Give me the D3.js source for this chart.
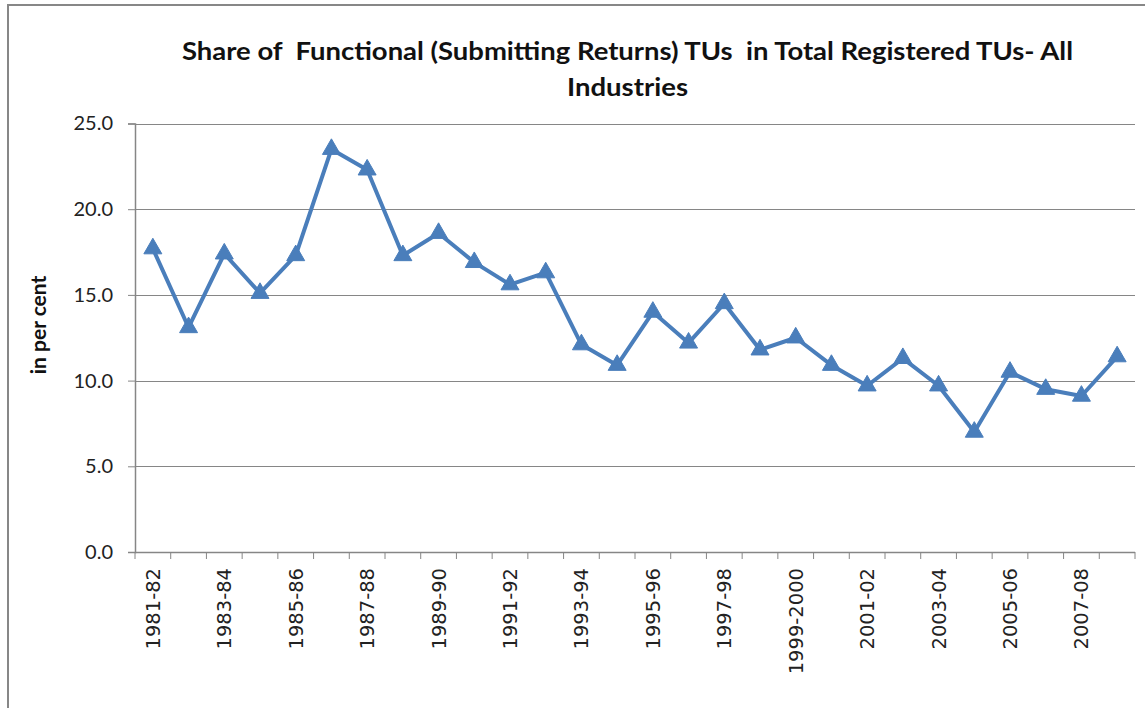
<!DOCTYPE html>
<html>
<head>
<meta charset="utf-8">
<script src="https://cdn.jsdelivr.net/npm/d3@7"></script>
<style>
  body { margin: 0; background: #fff; }
  svg { display: block; }
  text { white-space: pre; }
</style>
</head>
<body>
<div class="container"></div>
<script>
// data
var years = ["1981-82","1982-83","1983-84","1984-85","1985-86","1986-87","1987-88","1988-89",
             "1989-90","1990-91","1991-92","1992-93","1993-94","1994-95","1995-96","1996-97",
             "1997-98","1998-99","1999-2000","2000-01","2001-02","2002-03","2003-04","2004-05",
             "2005-06","2006-07","2007-08","2008-09"];
var shares = [17.7, 13.1, 17.4, 15.1, 17.3, 23.5, 22.3, 17.3, 18.6, 16.9, 15.6, 16.3, 12.1, 10.9,
              14.0, 12.2, 14.5, 11.8, 12.5, 10.9, 9.7, 11.3, 9.7, 7.0, 10.5, 9.5, 9.1, 11.4];
var yTicks = [0, 5, 10, 15, 20, 25];
var titleLines = ["Share of  Functional (Submitting Returns) TUs  in Total Registered TUs- All", "Industries"];

(function(){
var W = 1145, H = 708;
var pLeft = 135, pRight = 1135, pTop = 123.5, pBottom = 552;
var lineColor = "#4a7ebb", gridColor = "#868686";

var svg = d3.select('.container').append('svg')
    .attr("width", W).attr("height", H);

// chart frame (right and bottom edges run off the picture)
svg.append("rect")
   .attr("x", 8).attr("y", 5).attr("width", W + 10).attr("height", H + 10)
   .attr("fill", "none").attr("stroke", "#878787").attr("stroke-width", 2);

var x = d3.scaleBand().domain(years).range([pLeft, pRight]).padding(0);
var y = d3.scaleLinear().domain([0, 25]).range([pBottom, pTop]);

// gridlines
svg.append("g").selectAll("line")
   .data(yTicks.slice(1))
   .enter().append("line")
   .attr("x1", pLeft).attr("x2", pRight)
   .attr("y1", function(d){ return Math.round(y(d)) + 0.5; })
   .attr("y2", function(d){ return Math.round(y(d)) + 0.5; })
   .attr("stroke", gridColor).attr("stroke-width", 1.2);

// y axis
var yAxis = svg.append("g")
   .attr("transform", "translate(" + pLeft + ",0)")
   .call(d3.axisLeft(y).tickValues(yTicks).tickSize(7).tickPadding(15)
           .tickFormat(function(d){ return d3.format(".1f")(d); }));
yAxis.select(".domain").attr("stroke", gridColor).attr("stroke-width", 1.5);
yAxis.selectAll(".tick line").attr("stroke", gridColor);
yAxis.selectAll("text")
   .attr("font-family", "Lato, 'Open Sans', sans-serif")
   .attr("font-size", 20).attr("fill", "#222");

// x axis: ticks at band boundaries, labels every other year
var bounds = years.map(function(d){ return x(d); }).concat([pRight]);
svg.append("line")
   .attr("x1", pLeft).attr("x2", pRight).attr("y1", pBottom + 0.5).attr("y2", pBottom + 0.5)
   .attr("stroke", gridColor).attr("stroke-width", 1.5);
svg.append("g").selectAll("line")
   .data(bounds)
   .enter().append("line")
   .attr("x1", function(d){ return d; }).attr("x2", function(d){ return d; })
   .attr("y1", pBottom).attr("y2", pBottom + 7)
   .attr("stroke", gridColor);

svg.append("g").selectAll("text")
   .data(years.filter(function(d, i){ return i % 2 == 0; }))
   .enter().append("text")
   .attr("transform", function(d){
      return "translate(" + (x(d) + x.bandwidth() / 2 + 7) + "," + (pBottom + 16) + ") rotate(-90)";
   })
   .attr("text-anchor", "end")
   .attr("font-family", "'DejaVu Sans', sans-serif")
   .attr("font-size", 19.5).attr("fill", "#222")
   .text(function(d){ return d; });

// title
svg.append("g").selectAll("text")
   .data(titleLines)
   .enter().append("text")
   .attr("x", 627.5)
   .attr("y", function(d, i){ return 60 + i * 36; })
   .attr("text-anchor", "middle")
   .attr("font-family", "Lato, 'Open Sans', sans-serif")
   .attr("font-weight", "bold").attr("font-size", 24).attr("fill", "#111")
   .attr("textLength", function(d, i){ return i == 0 ? 891 : 121; })
   .attr("lengthAdjust", "spacingAndGlyphs")
   .text(function(d){ return d; });

// y axis title
svg.append("text")
   .attr("transform", "translate(46,325) rotate(-90)")
   .attr("text-anchor", "middle")
   .attr("font-family", "Lato, 'Open Sans', sans-serif")
   .attr("font-weight", "bold").attr("font-size", 21).attr("fill", "#111")
   .text("in per cent");

// series line
var line = d3.line()
   .x(function(d, i){ return x(years[i]) + x.bandwidth() / 2; })
   .y(function(d){ return y(d); });

svg.append("path")
   .datum(shares)
   .attr("d", line)
   .attr("fill", "none").attr("stroke", lineColor)
   .attr("stroke-width", 4).attr("stroke-linejoin", "round");

// triangle markers
var tri = d3.symbol().type(d3.symbolTriangle).size(140);
svg.append("g").selectAll("path")
   .data(shares)
   .enter().append("path")
   .attr("d", tri)
   .attr("transform", function(d, i){
      return "translate(" + (x(years[i]) + x.bandwidth() / 2) + "," + y(d) + ")";
   })
   .attr("fill", lineColor).attr("stroke", lineColor).attr("stroke-width", 1);
})();
</script>
</body>
</html>
